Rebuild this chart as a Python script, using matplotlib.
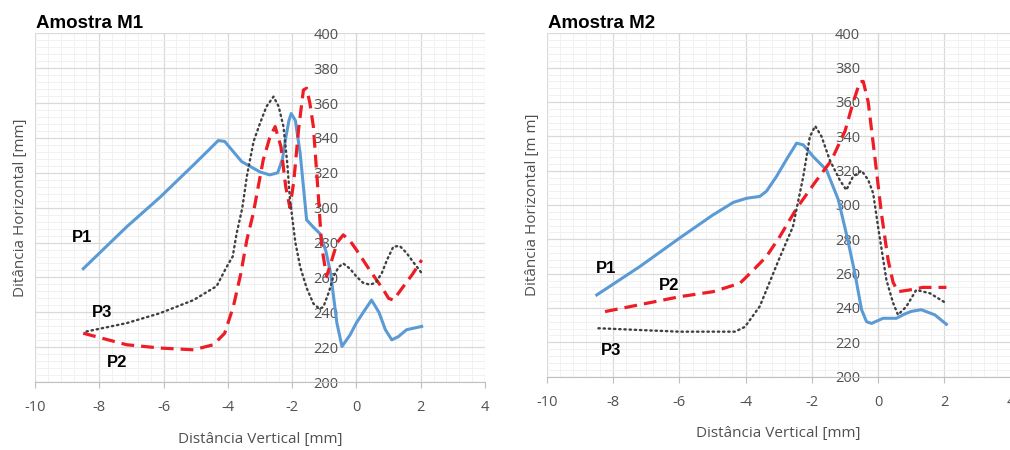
import matplotlib
matplotlib.use("Agg")
import matplotlib.pyplot as plt
from matplotlib.ticker import MultipleLocator, AutoMinorLocator

plt.rcParams["axes.unicode_minus"] = False

# ---- data ----
m1_p1_x = [-8.5, -7.15, -6.11, -5.07, -4.6, -4.3, -4.1, -3.57, -3.0, -2.7, -2.45, -2.3, -2.2,
           -2.1, -2.03, -1.9, -1.75, -1.55, -1.35, -1.13, -0.95, -0.8, -0.61, -0.45, -0.2, 0.0,
           0.25, 0.47, 0.7, 0.9, 1.1, 1.3, 1.56, 2.03]
m1_p1_y = [265, 289, 306, 324.5, 333, 338.5, 338, 326.4, 320.5, 318.8, 320, 328, 340,
           350, 354, 350, 331, 293, 289, 285, 275, 262, 234, 220.4, 227, 234,
           241, 247, 240, 230, 224.2, 226, 230, 231.9]

m1_p2_x = [-8.5, -7.15, -6.11, -5.07, -4.45, -4.1, -3.83, -3.6, -3.41, -3.21, -2.9, -2.7, -2.53,
           -2.35, -2.2, -2.07, -1.95, -1.8, -1.65, -1.55, -1.45, -1.34, -1.19, -1.08, -0.93, -0.8,
           -0.6, -0.41, -0.2, 0.0, 0.42, 0.84, 1.0, 1.15, 1.46, 1.75, 2.03]
m1_p2_y = [228, 221.4, 219.5, 218.5, 221.4, 228, 243.3, 262, 281.5, 296.8, 327.4, 340, 346.5,
           335, 312, 300, 315, 345, 367.5, 368.5, 360, 346.5, 308, 277.7, 260.5, 268,
           280, 284.4, 281, 275.8, 264, 252.9, 248, 247, 254.8, 262, 270]

m1_p3_x = [-8.4, -7.15, -6.11, -5.07, -4.35, -4.04, -3.85, -3.73, -3.55, -3.41, -3.2, -3.0, -2.8,
           -2.58, -2.42, -2.27, -2.15, -2.07, -1.9, -1.75, -1.55, -1.34, -1.15, -1.03, -0.85, -0.72,
           -0.55, -0.41, -0.2, 0.0, 0.2, 0.42, 0.6, 0.79, 0.95, 1.15, 1.35, 1.56, 1.8, 2.03]
m1_p3_y = [229, 233.8, 239.5, 247, 255, 266, 272, 285, 300, 318, 338, 348.4, 358,
           363.7, 358, 346.5, 325, 305, 280, 266, 254, 245, 242, 243, 252, 260.5,
           266, 268, 265, 260.5, 257, 255.8, 257, 262.5, 270, 277.7, 278, 274, 268, 262.5]

m2_p1_x = [-8.49, -7.2, -6.0, -5.0, -4.37, -3.97, -3.57, -3.37, -3.07, -2.75, -2.46, -2.26, -1.95,
           -1.56, -1.2, -0.92, -0.7, -0.5, -0.35, -0.2, 0.15, 0.55, 0.8, 1.0, 1.3, 1.71, 2.06]
m2_p1_y = [247.6, 264, 280.6, 294, 301.5, 303.9, 305, 308, 316.5, 327, 336, 335, 328,
           320.4, 303, 280, 260, 239, 232, 231, 234, 234, 236.5, 238, 239, 236, 230.5]

m2_p2_x = [-8.24, -6.99, -5.98, -4.98, -4.17, -3.77, -3.37, -2.97, -2.46, -1.91, -1.41, -1.0,
           -0.75, -0.55, -0.45, -0.3, -0.1, 0.1, 0.3, 0.45, 0.6, 0.95, 1.35, 2.06]
m2_p2_y = [237.9, 242.7, 246.6, 249.5, 254.4, 262, 270, 281.5, 298, 313, 326, 343,
           360, 371.8, 372, 360, 328, 295, 268, 255, 249.5, 250.5, 252, 252]

m2_p3_x = [-8.44, -7.0, -6.0, -5.0, -4.32, -4.02, -3.57, -3.0, -2.57, -2.26, -2.06, -1.9, -1.71,
           -1.46, -1.16, -0.96, -0.76, -0.5, -0.3, -0.15, 0.0, 0.25, 0.45, 0.6, 0.85, 1.15, 1.56, 2.06]
m2_p3_y = [228.2, 227, 226.2, 226.2, 226.2, 229, 241, 268, 287.4, 316.5, 339.8, 346, 340,
           326.2, 314.6, 308.7, 316.5, 320, 314.6, 306.8, 287, 256.3, 243, 236, 240.8, 250.5, 248.6, 242.7]

series_names = ["P1", "P2", "P3"]
m1_label_pos = [(-8.55, 283), (-7.45, 211), (-7.9, 240)]
m2_label_pos = [(-8.2, 263), (-6.3, 253), (-8.05, 215)]

BLUE = "#5b9bd5"
RED = "#ee1c25"
DARK = "#404040"
TICK_FONT = "Open Sans"
TEXT_GREY = "#505050"

fig = plt.figure(figsize=(10.1, 4.5), dpi=100)
ax1 = fig.add_axes([0.0347, 0.151, 0.4455, 0.775])
ax2 = fig.add_axes([0.5413, 0.163, 0.4594, 0.763])


def style_axis(ax, ylabel, title):
    ax.set_xlim(-10, 4)
    ax.set_ylim(200, 400)
    ax.xaxis.set_major_locator(MultipleLocator(2))
    ax.yaxis.set_major_locator(MultipleLocator(20))
    ax.xaxis.set_minor_locator(AutoMinorLocator(5))
    ax.yaxis.set_minor_locator(AutoMinorLocator(5))
    ax.grid(which="major", color="#d9d9d9", linewidth=0.9)
    ax.grid(which="minor", color="#efefef", linewidth=0.6)
    ax.set_axisbelow(True)
    for s in ["top", "right"]:
        ax.spines[s].set_visible(False)
    ax.spines["left"].set_position(("data", 0))
    ax.spines["left"].set_color("#d9d9d9")
    ax.spines["bottom"].set_color("#bfbfbf")
    ax.tick_params(axis="y", which="both", length=0, pad=13, labelsize=10.5, labelcolor=TEXT_GREY)
    ax.tick_params(axis="x", which="major", length=4, color="#bfbfbf", pad=9,
                   labelsize=10.5, labelcolor=TEXT_GREY)
    ax.tick_params(axis="x", which="minor", length=0)
    for lab in ax.get_xticklabels() + ax.get_yticklabels():
        lab.set_fontfamily(TICK_FONT)
    ax.set_xlabel("Distância Vertical [mm]", fontsize=11, color=TEXT_GREY,
                  family=TICK_FONT, labelpad=12)
    ax.set_ylabel(ylabel, fontsize=11, color=TEXT_GREY, family=TICK_FONT)
    ax.text(0.003, 1.005, title, transform=ax.transAxes, fontsize=13.5, fontweight="bold",
            family="Liberation Sans", ha="left", va="bottom")


def draw_series(ax, xs, ys, label_pos):
    ax.plot(xs[0], ys[0], color=BLUE, lw=2.2, solid_joinstyle="round", zorder=3)
    ax.plot(xs[1], ys[1], color=RED, lw=2.3, dashes=(4, 2.2), zorder=4)
    ax.plot(xs[2], ys[2], color=DARK, lw=1.7, linestyle=(0, (0.6, 1.6)),
            dash_capstyle="round", zorder=5)
    for name, (px, py) in zip(series_names, label_pos):
        ax.text(px, py, name, fontsize=12, fontweight="bold", family="Liberation Sans",
                ha="center", va="center", zorder=6)


style_axis(ax1, "Ditância Horizontal [mm]", "Amostra M1")
draw_series(ax1, [m1_p1_x, m1_p2_x, m1_p3_x], [m1_p1_y, m1_p2_y, m1_p3_y], m1_label_pos)
ax1.yaxis.set_label_coords(-0.016, 0.5)

style_axis(ax2, "Ditância Horizontal [m m]", "Amostra M2")
draw_series(ax2, [m2_p1_x, m2_p2_x, m2_p3_x], [m2_p1_y, m2_p2_y, m2_p3_y], m2_label_pos)
ax2.yaxis.set_label_coords(-0.014, 0.5)

fig.savefig("out.png", dpi=100)
